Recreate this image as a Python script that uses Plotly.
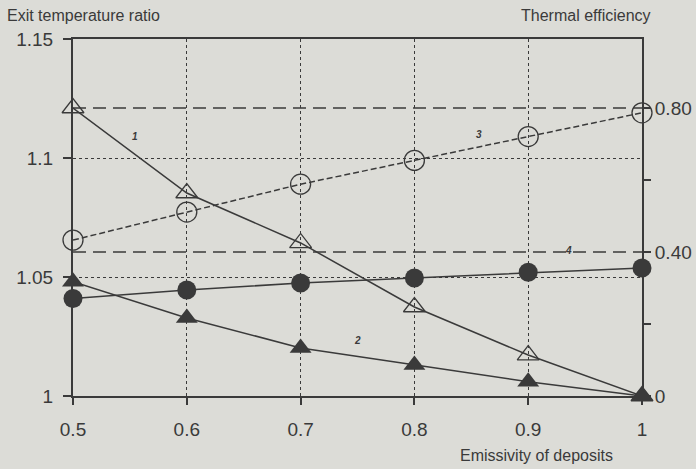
import plotly.graph_objects as go

emissivity = [0.5, 0.6, 0.7, 0.8, 0.9, 1.0]
curve1_open_tri = [1.121, 1.0853, 1.0643, 1.0374, 1.0172, 1.0]
curve2_fill_tri = [1.048, 1.0328, 1.0202, 1.013, 1.006, 1.0]
curve_fill_circ = [1.041, 1.0445, 1.0475, 1.0496, 1.052, 1.0538]
curve3_open_circ = [1.0655, 1.0773, 1.089, 1.099, 1.109, 1.119]
eff_x = [0.5, 1.0]
eff_high = [0.80, 0.80]
eff_low = [0.40, 0.40]

left_ticks = [1.0, 1.05, 1.1, 1.15]
left_labels = ["1", "1.05", "1.1", "1.15"]
right_ticks = [0, 0.2, 0.4, 0.6, 0.8]
right_labels = ["0", "", "0.40", "", "0.80"]
x_ticks = [0.5, 0.6, 0.7, 0.8, 0.9, 1.0]
x_labels = ["0.5", "0.6", "0.7", "0.8", "0.9", "1"]

curve_labels = ["1", "2", "3", "4"]
curve_label_x = [0.5545, 0.7496, 0.857, 0.935]
curve_label_y = [1.109, 1.0235, 1.110, 1.061]

ink = "#3a3a3a"
bg = "#dcdcd7"
font = "Liberation Sans, Arial, sans-serif"

fig = go.Figure()

fig.add_trace(go.Scatter(x=eff_x, y=eff_high, yaxis="y2", mode="lines",
                         line=dict(color=ink, width=1.5, dash="13px,7px"), showlegend=False))
fig.add_trace(go.Scatter(x=eff_x, y=eff_low, yaxis="y2", mode="lines",
                         line=dict(color=ink, width=1.5, dash="13px,7px"), showlegend=False))

fig.add_trace(go.Scatter(x=emissivity, y=curve3_open_circ, mode="lines+markers", cliponaxis=False,
                         line=dict(color=ink, width=1.5, dash="6px,3px"),
                         marker=dict(symbol="circle-open", size=20, color=ink, line=dict(width=1.3)),
                         showlegend=False))
fig.add_trace(go.Scatter(x=emissivity, y=curve1_open_tri, mode="lines+markers", cliponaxis=False,
                         line=dict(color=ink, width=1.5),
                         marker=dict(symbol="triangle-up-open", size=19, color=ink, line=dict(width=1.3)),
                         showlegend=False))
fig.add_trace(go.Scatter(x=emissivity, y=curve2_fill_tri, mode="lines+markers", cliponaxis=False,
                         line=dict(color=ink, width=1.5),
                         marker=dict(symbol="triangle-up", size=19, color=ink),
                         showlegend=False))
fig.add_trace(go.Scatter(x=emissivity, y=curve_fill_circ, mode="lines+markers", cliponaxis=False,
                         line=dict(color=ink, width=1.5),
                         marker=dict(symbol="circle", size=19, color=ink),
                         showlegend=False))

for t, x, y in zip(curve_labels, curve_label_x, curve_label_y):
    fig.add_annotation(x=x, y=y, text="<b><i>%s</i></b>" % t, showarrow=False,
                       font=dict(size=10, color=ink, family=font))

pw, ph = 569.0, 357.0
fig.add_annotation(x=(5 - 73) / pw, y=1 + 24 / ph, xref="paper", yref="paper",
                   text="Exit temperature ratio", showarrow=False,
                   xanchor="left", yanchor="middle", font=dict(size=16, color=ink, family=font))
fig.add_annotation(x=(653 - 73) / pw, y=1 + 24 / ph, xref="paper", yref="paper",
                   text="Thermal efficiency", showarrow=False,
                   xanchor="right", yanchor="middle", font=dict(size=16, color=ink, family=font))
fig.add_annotation(x=(615 - 73) / pw, y=-(455 - 396) / ph, xref="paper", yref="paper",
                   text="Emissivity of deposits", showarrow=False,
                   xanchor="right", yanchor="middle", font=dict(size=16, color=ink, family=font))

fig.update_layout(
    width=696, height=469,
    margin=dict(l=73, r=54, t=39, b=73, autoexpand=False),
    paper_bgcolor=bg, plot_bgcolor=bg,
    font=dict(family=font, color=ink),
    xaxis=dict(range=[0.5, 1.0], tickvals=x_ticks, ticktext=x_labels,
               showline=True, linecolor=ink, linewidth=2, mirror=True,
               ticks="outside", ticklen=7, tickcolor=ink, tickwidth=1.5,
               showgrid=True, gridcolor=ink, griddash="dot", gridwidth=1,
               zeroline=False, tickfont=dict(size=19, color=ink),
               ticklabelstandoff=8, automargin=False),
    yaxis=dict(range=[1.0, 1.15], tickvals=left_ticks, ticktext=left_labels,
               showline=True, linecolor=ink, linewidth=2, mirror=True,
               ticks="outside", ticklen=8, tickcolor=ink, tickwidth=1.5,
               showgrid=True, gridcolor=ink, griddash="dot", gridwidth=1,
               zeroline=False, tickfont=dict(size=19, color=ink),
               ticklabelstandoff=6, automargin=False),
    yaxis2=dict(range=[0, 0.992], overlaying="y", side="right",
                tickvals=right_ticks, ticktext=right_labels,
                showline=True, linecolor=ink, linewidth=2,
                ticks="outside", ticklen=7, tickcolor=ink, tickwidth=1.5,
                showgrid=False, zeroline=False, tickfont=dict(size=19, color=ink),
                automargin=False),
)

fig.write_html("out.html", config={"displayModeBar": False},
               post_script="document.body.style.margin='0';document.body.style.background='%s';" % bg)
